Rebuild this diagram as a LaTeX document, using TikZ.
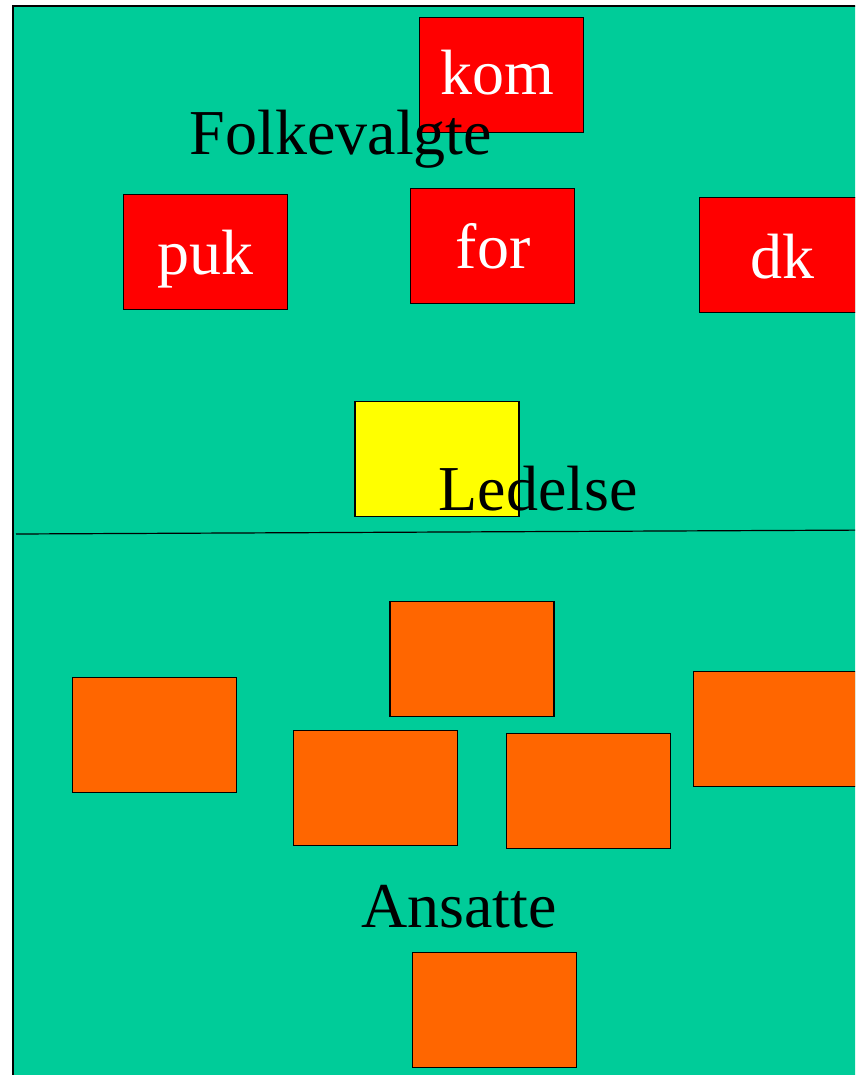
\documentclass[tikz,border=0pt]{standalone}
\usepackage{fontspec}
\setmainfont{Liberation Serif}
\definecolor{bggreen}{HTML}{00CC99}
\definecolor{boxred}{HTML}{FF0000}
\definecolor{boxyellow}{HTML}{FFFF00}
\definecolor{boxorange}{HTML}{FF6600}
\tikzset{
  card/.style={draw=black, line width=1.2pt, minimum width=164pt, minimum height=115pt, inner sep=0pt},
  redcard/.style={card, fill=boxred},
  yellowcard/.style={card, fill=boxyellow},
  orangecard/.style={card, fill=boxorange},
  label/.style={anchor=base, inner sep=0pt, font=\fontsize{64}{70}\selectfont, text=black},
  cardtext/.style={label, text=white}
}
\begin{document}
\begin{tikzpicture}[x=1pt,y=-1pt]
\useasboundingbox (0,0) rectangle (855,1075);
\clip (0,0) rectangle (855,1075);
\fill[white] (0,0) rectangle (855,1075);
\draw[fill=bggreen, line width=1.5pt] (13,6) rectangle (880,1095);
\coordinate (sepL) at (16,534);
\coordinate (sepR) at (880,530);
\draw[line width=1.2pt] (sepL) -- (sepR);
% red cards
\node[redcard] (kom) at (501.5,75) {};
\node[cardtext] (komtxt) at (497.5,95) {kom};
\node[redcard] (puk) at (205.5,252) {};
\node[cardtext] (puktxt) at (205,274) {puk};
\node[redcard] (for) at (492.5,246) {};
\node[cardtext] (fortxt) at (493,269) {for};
\node[redcard] (dk) at (781.5,255) {};
\node[cardtext] (dktxt) at (782,278) {dk};
\node[label] (folk) at (341,155) {Folkevalgte};
% leader
\node[yellowcard] (led) at (437,459) {};
\node[label] (ledtxt) at (538,510) {Ledelse};
% employees
\node[orangecard] (a1) at (472,659) {};
\node[orangecard] (a2) at (154.5,735) {};
\node[orangecard] (a3) at (375.5,788) {};
\node[orangecard] (a4) at (588.5,791) {};
\node[orangecard] (a5) at (775.5,729) {};
\node[orangecard] (a6) at (494.5,1010) {};
\node[label] (ans) at (459,927) {Ansatte};
\end{tikzpicture}
\end{document}
